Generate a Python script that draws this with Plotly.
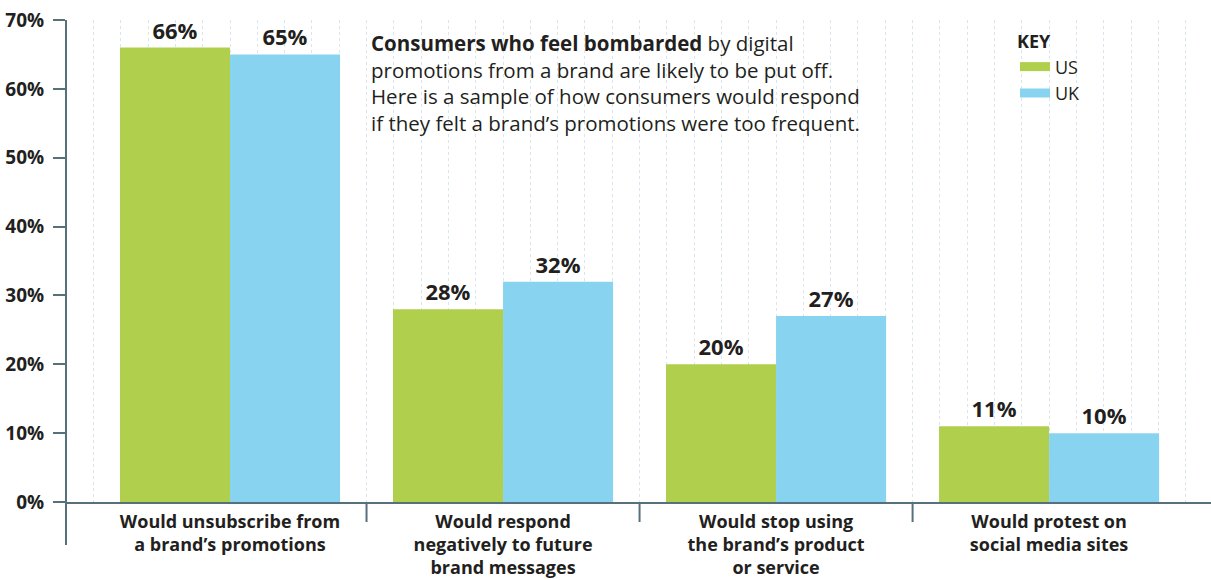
import plotly.graph_objects as go

categories = [
    "Would unsubscribe from<br>a brand’s promotions",
    "Would respond<br>negatively to future<br>brand messages",
    "Would stop using<br>the brand’s product<br>or service",
    "Would protest on<br>social media sites",
]
us_values = [66, 28, 20, 11]
uk_values = [65, 32, 27, 10]
series_names = ["US", "UK"]
y_ticks = [0, 10, 20, 30, 40, 50, 60, 70]
y_tick_labels = ["0%", "10%", "20%", "30%", "40%", "50%", "60%", "70%"]
note_lines = [
    "<b>Consumers who feel bombarded</b> by digital",
    "promotions from a brand are likely to be put off.",
    "Here is a sample of how consumers would respond",
    "if they felt a brand’s promotions were too frequent.",
]

GREEN = "#AFCF4D"
BLUE = "#88D3EF"
AXIS = "#56707C"
TEXT = "#231F20"
FONT = "Open Sans"

W, H = 1211, 580
ML, MT, MB = 66, 20, 78
PH = H - MT - MB  # 482
PW = W - ML       # 1145

xpos = list(range(len(categories)))

fig = go.Figure()
for name, vals, col in [(series_names[0], us_values, GREEN), (series_names[1], uk_values, BLUE)]:
    fig.add_trace(go.Bar(
        x=xpos, y=vals, name=name, marker=dict(color=col, line=dict(width=0)),
        text=[f"{v}%" for v in vals], textposition="outside",
        textfont=dict(family=FONT, size=22, color=TEXT, weight="bold"),
        cliponaxis=False, showlegend=False,
    ))
for name, col in [(series_names[0], GREEN), (series_names[1], BLUE)]:
    fig.add_trace(go.Scatter(x=[None], y=[None], mode="lines", name=name,
                             line=dict(color=col, width=9), showlegend=True))
fig.add_trace(go.Scatter(x=[None], y=[None], xaxis="x2", showlegend=False))

xr = [-0.6007, 3.593]
fig.update_layout(
    width=W, height=H,
    margin=dict(l=ML, r=0, t=MT, b=MB, autoexpand=False),
    paper_bgcolor="white", plot_bgcolor="white",
    barmode="group", bargap=0.194, bargroupgap=0,
    font=dict(family=FONT, color=TEXT),
    xaxis=dict(
        range=xr, tickmode="array", tickvals=xpos, ticktext=categories,
        tickfont=dict(family=FONT, size=18, color=TEXT, weight="bold"),
        showline=True, linecolor=AXIS, linewidth=2, ticks="", showgrid=False,
        zeroline=False, ticklabelstandoff=2, automargin=False,
    ),
    xaxis2=dict(
        range=xr, overlaying="x", tick0=0.0, dtick=0.1, showgrid=True,
        gridcolor="rgba(165,190,212,0.4)", griddash="dot", gridwidth=1,
        showticklabels=False, ticks="", zeroline=False, layer="below traces",
    ),
    yaxis=dict(
        range=[0, 70], tickmode="array", tickvals=y_ticks, ticktext=y_tick_labels,
        tickfont=dict(family=FONT, size=19, color=TEXT, weight="bold"),
        ticks="outside", ticklen=12, tickcolor=AXIS, tickwidth=2,
        showline=False, showgrid=False, zeroline=False, ticklabelstandoff=5,
        automargin=False,
    ),
    legend=dict(
        title=dict(text="<b>KEY</b>", font=dict(family=FONT, size=18, color=TEXT)),
        x=(1015 - 66) / PW, y=1 - (25 - 20) / PH, xanchor="left", yanchor="top",
        bgcolor="rgba(0,0,0,0)", font=dict(family=FONT, size=18, color=TEXT),
        tracegroupgap=0, itemwidth=30,
    ),
)

fig.add_shape(type="line", xref="paper", yref="paper", x0=0, x1=0, y0=1, y1=-43 / PH,
              line=dict(color=AXIS, width=2))
for s in [0.5, 1.5, 2.5]:
    fig.add_shape(type="line", xref="x", yref="paper", x0=s, x1=s, y0=0, y1=-20 / PH,
                  line=dict(color=AXIS, width=2))

fig.add_annotation(
    xref="paper", yref="paper", x=(369 - 66) / PW, y=(502 - 83) / PH,
    xanchor="left", yanchor="middle", align="left", showarrow=False,
    text="<br>".join(note_lines), font=dict(family=FONT, size=20.5, color=TEXT),
)

fig.write_html("out.html", config={"displayModeBar": False},
               post_script="document.body.style.margin='0';")
